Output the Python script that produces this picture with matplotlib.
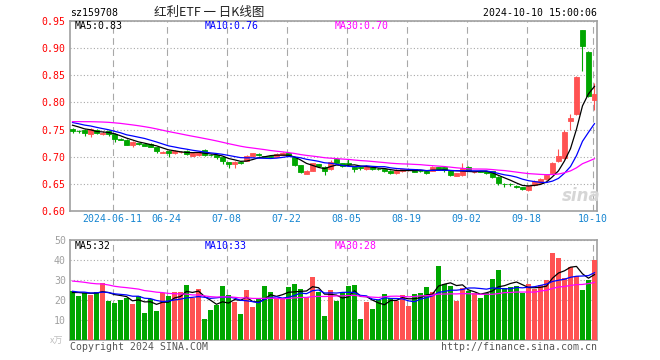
import numpy as np
import matplotlib
matplotlib.use("Agg")
import matplotlib.pyplot as plt

# ---- daily candles, 2024-05-30 .. 2024-10-10 (88 sessions) ----
open_ = [0.7505, 0.7482, 0.7490, 0.7420, 0.7490, 0.7418, 0.7470, 0.7410, 0.7325, 0.7305,
         0.7216, 0.7250, 0.7230, 0.7234, 0.7175, 0.7070, 0.7112, 0.7062, 0.7090, 0.7105,
         0.7020, 0.7038, 0.7124, 0.7035, 0.7032, 0.6989, 0.6896, 0.6866, 0.6898, 0.6930,
         0.7020, 0.7050, 0.7005, 0.7005, 0.7001, 0.7040, 0.7065, 0.6990, 0.6845, 0.6690,
         0.6740, 0.6860, 0.6815, 0.6770, 0.6950, 0.6878, 0.6890, 0.6817, 0.6806, 0.6768,
         0.6805, 0.6775, 0.6768, 0.6737, 0.6694, 0.6737, 0.6749, 0.6768, 0.6740, 0.6737,
         0.6743, 0.6805, 0.6805, 0.6737, 0.6651, 0.6663, 0.6817, 0.6712, 0.6737, 0.6737,
         0.6737, 0.6633, 0.6505, 0.6503, 0.6466, 0.6436, 0.6393, 0.6479, 0.6522, 0.6583,
         0.6694, 0.6921, 0.6970, 0.7650, 0.7790, 0.9330, 0.8930, 0.8040]
high = [0.7520, 0.7500, 0.7510, 0.7520, 0.7505, 0.7470, 0.7490, 0.7430, 0.7340, 0.7320,
        0.7290, 0.7260, 0.7240, 0.7245, 0.7180, 0.7100, 0.7120, 0.7130, 0.7110, 0.7120,
        0.7080, 0.7100, 0.7135, 0.7050, 0.7040, 0.7000, 0.6900, 0.6920, 0.6915, 0.7030,
        0.7070, 0.7060, 0.7020, 0.7015, 0.7070, 0.7080, 0.7075, 0.7000, 0.6850, 0.6750,
        0.6890, 0.6870, 0.6820, 0.6940, 0.6980, 0.6890, 0.6950, 0.6830, 0.6820, 0.6840,
        0.6820, 0.6785, 0.6780, 0.6750, 0.6770, 0.6780, 0.6800, 0.6780, 0.6750, 0.6745,
        0.6830, 0.6815, 0.6820, 0.6750, 0.6700, 0.6890, 0.6830, 0.6740, 0.6745, 0.6745,
        0.6745, 0.6640, 0.6510, 0.6510, 0.6480, 0.6445, 0.6480, 0.6570, 0.6600, 0.6680,
        0.6900, 0.7150, 0.7490, 0.7780, 0.8480, 0.9340, 0.8950, 0.8350]
low = [0.7430, 0.7430, 0.7380, 0.7360, 0.7410, 0.7400, 0.7380, 0.7280, 0.7300, 0.7210,
       0.7170, 0.7220, 0.7190, 0.7170, 0.7070, 0.7060, 0.7000, 0.7050, 0.7070, 0.7030,
       0.7010, 0.7020, 0.7020, 0.7010, 0.6950, 0.6870, 0.6800, 0.6790, 0.6870, 0.6920,
       0.7000, 0.7010, 0.6990, 0.6985, 0.6990, 0.7030, 0.7010, 0.6830, 0.6700, 0.6680,
       0.6730, 0.6810, 0.6670, 0.6760, 0.6870, 0.6810, 0.6830, 0.6725, 0.6760, 0.6750,
       0.6760, 0.6750, 0.6720, 0.6680, 0.6680, 0.6725, 0.6740, 0.6710, 0.6720, 0.6690,
       0.6730, 0.6770, 0.6720, 0.6650, 0.6640, 0.6640, 0.6730, 0.6700, 0.6710, 0.6685,
       0.6610, 0.6470, 0.6448, 0.6460, 0.6430, 0.6380, 0.6360, 0.6460, 0.6510, 0.6570,
       0.6680, 0.6900, 0.6950, 0.7490, 0.7770, 0.8570, 0.8100, 0.7860]
close = [0.7481, 0.7475, 0.7431, 0.7505, 0.7431, 0.7443, 0.7418, 0.7320, 0.7315, 0.7220,
         0.7270, 0.7240, 0.7203, 0.7185, 0.7105, 0.7080, 0.7062, 0.7112, 0.7095, 0.7044,
         0.7062, 0.7087, 0.7032, 0.7030, 0.6989, 0.6927, 0.6860, 0.6909, 0.6890, 0.7013,
         0.7062, 0.7026, 0.7000, 0.6998, 0.7056, 0.7065, 0.7020, 0.6840, 0.6725, 0.6735,
         0.6885, 0.6830, 0.6730, 0.6910, 0.6880, 0.6835, 0.6860, 0.6768, 0.6800, 0.6829,
         0.6780, 0.6770, 0.6737, 0.6694, 0.6755, 0.6768, 0.6774, 0.6725, 0.6735, 0.6706,
         0.6817, 0.6780, 0.6755, 0.6663, 0.6694, 0.6786, 0.6743, 0.6725, 0.6718, 0.6694,
         0.6633, 0.6510, 0.6500, 0.6495, 0.6442, 0.6405, 0.6466, 0.6553, 0.6583, 0.6663,
         0.6890, 0.7013, 0.7461, 0.7710, 0.8460, 0.9040, 0.8120, 0.8150]
volume = [24.7, 22.0, 23.7, 22.5, 24.0, 28.7, 19.7, 18.7, 20.2, 21.2,
          18.2, 22.0, 13.7, 20.5, 14.7, 23.5, 22.2, 24.2, 24.2, 27.5,
          20.8, 25.7, 10.5, 15.0, 17.3, 27.0, 22.5, 19.2, 13.2, 25.0,
          16.5, 20.5, 27.0, 24.2, 20.8, 20.8, 26.5, 28.0, 25.5, 21.7,
          31.5, 24.0, 12.0, 25.0, 19.7, 24.2, 27.0, 27.5, 10.5, 19.2,
          15.5, 20.0, 23.0, 21.0, 19.5, 22.5, 17.0, 23.2, 23.7, 26.5,
          24.2, 37.2, 28.0, 27.0, 19.7, 26.0, 24.5, 23.3, 21.0, 23.3,
          30.5, 35.0, 26.0, 26.5, 27.0, 23.7, 28.0, 25.5, 27.5, 30.0,
          43.5, 41.0, 31.0, 36.5, 32.0, 25.0, 30.0, 40.0]

# the 29 sessions before the window, only used to seed the moving averages
pre_close = [0.745, 0.748, 0.750, 0.752, 0.755, 0.758, 0.760, 0.762, 0.765, 0.768,
             0.770, 0.772, 0.775, 0.778, 0.780, 0.778, 0.776, 0.774, 0.772, 0.770,
             0.770, 0.768, 0.767, 0.768, 0.767, 0.763, 0.761, 0.759, 0.759]
pre_vol = [30, 34, 36, 33, 31, 35, 38, 32, 30, 29, 33, 36, 31, 28, 30, 34, 29, 27, 31, 33,
           26, 24, 27, 23, 25, 22, 25, 23, 24]

tick_idx = [7, 16, 26, 36, 46, 56, 66, 76, 87]
tick_lbl = ["2024-06-11", "06-24", "07-08", "07-22", "08-05", "08-19", "09-02", "09-18", "10-10"]

UP, DN = "#ff5252", "#00a600"
GRID = "#a8a8a8"
MONO = "DejaVu Sans Mono"
FS = 7.1

o, h, l, c = map(np.array, (open_, high, low, close))
vol = np.array(volume)
n = len(c)
x = np.arange(n)
cols = np.where(c >= o, UP, DN)


def sma(pre, vals, k):
    full = np.concatenate([pre, vals])
    m = np.convolve(full, np.ones(k) / k, mode="valid")
    return m[-len(vals):]


ma_c = {k: sma(pre_close, c, k) for k in (5, 10, 30)}
ma_v = {k: sma(pre_vol, vol, k) for k in (5, 10, 30)}
ma_col = {5: "black", 10: "#0000ff", 30: "#ff00ff"}

W, H = 660, 360
fig = plt.figure(figsize=(W / 100, H / 100), dpi=100)


def fx(px):
    return px / W


def fy(py):
    return 1 - py / H


ax = fig.add_axes([fx(70), fy(211), fx(527), 190 / H])
ax2 = fig.add_axes([fx(70), fy(340), fx(527), 100 / H])

xlim = (-0.42, n - 1 + 0.42)
grid_x = np.array(tick_idx) - 0.3

# ---- price panel ----
ax.vlines(x, l, h, colors=cols, lw=0.8, zorder=3)
ax.bar(x, np.abs(c - o), bottom=np.minimum(o, c), width=0.72,
       color=cols, edgecolor=cols, lw=0.6, zorder=4)
for k in (5, 10, 30):
    ax.plot(x, ma_c[k], color=ma_col[k], lw=0.9, zorder=5)
ax.set_xlim(*xlim)
ax.set_ylim(0.60, 0.95)
ax.set_yticks(np.arange(0.60, 0.951, 0.05))
ax.set_yticklabels([f"{v:.2f}" for v in np.arange(0.60, 0.951, 0.05)])
ax.set_xticks(grid_x)
ax.set_xticklabels(tick_lbl)
ax.tick_params(axis="y", length=0, pad=3, labelcolor="red", labelsize=FS)
ax.tick_params(axis="x", length=0, pad=2.5, labelcolor="#1585d0", labelsize=FS)
for t in ax.get_xticklabels() + ax.get_yticklabels():
    t.set_family(MONO)
ax.grid(axis="y", ls=(0, (1, 2)), color=GRID, lw=0.8)
ax.grid(axis="x", ls=(0, (6, 4)), color=GRID, lw=0.8)
ax.set_axisbelow(True)

# ---- volume panel ----
ax2.bar(x, vol, width=0.83, color=cols, lw=0, zorder=3)
for k in (5, 10, 30):
    ax2.plot(x, ma_v[k], color=ma_col[k], lw=0.9, zorder=5)
ax2.set_xlim(*xlim)
ax2.set_ylim(0, 50)
ax2.set_yticks([10, 20, 30, 40, 50])
ax2.set_xticks(grid_x)
ax2.set_xticklabels([])
ax2.tick_params(axis="y", length=0, pad=3, labelcolor="#a0a0a0", labelsize=FS)
ax2.tick_params(axis="x", length=0)
for t in ax2.get_yticklabels():
    t.set_family(MONO)
ax2.grid(axis="y", ls=(0, (1, 2)), color=GRID, lw=0.8)
ax2.grid(axis="x", ls=(0, (6, 4)), color=GRID, lw=0.8)
ax2.set_axisbelow(True)

for a in (ax, ax2):
    for s in a.spines.values():
        s.set_color("#a0a0a0")
        s.set_linewidth(1.2)

# ---- texts ----
txt = dict(family=MONO, fontsize=FS, va="center")
fig.text(fx(70), fy(12.5), "sz159708", ha="left", color="black", **txt)
fig.text(fx(209), fy(12.5), "红利ETF 一 日K线图", ha="center", va="center",
         fontsize=9, color="#222222", family=["Noto Sans CJK SC", "DejaVu Sans"])
fig.text(fx(597), fy(12.5), "2024-10-10 15:00:06", ha="right", color="black", **txt)

lab_x = {5: 75, 10: 205, 30: 335}
for k in (5, 10, 30):
    fig.text(fx(lab_x[k]), fy(26), f"MA{k}:{ma_c[k][-1]:.2f}", ha="left",
             color=ma_col[k], **txt)
    fig.text(fx(lab_x[k]), fy(246), f"MA{k}:{int(ma_v[k][-1])}", ha="left",
             color=ma_col[k], **txt)

fig.text(fx(63), fy(341), "x万", ha="right", va="center", fontsize=6.5,
         color="#c0c0c0", family=["Noto Sans CJK SC", "DejaVu Sans"])
fig.text(fx(70), fy(347), "Copyright 2024 SINA.COM", ha="left", color="#555555", **txt)
fig.text(fx(597), fy(347), "http://finance.sina.com.cn", ha="right", color="#555555", **txt)
fig.text(fx(581), fy(196), "sina", ha="center", va="center", fontsize=12,
         style="italic", weight="bold", color="#d6d6d6")

fig.savefig("out.png", dpi=100)
